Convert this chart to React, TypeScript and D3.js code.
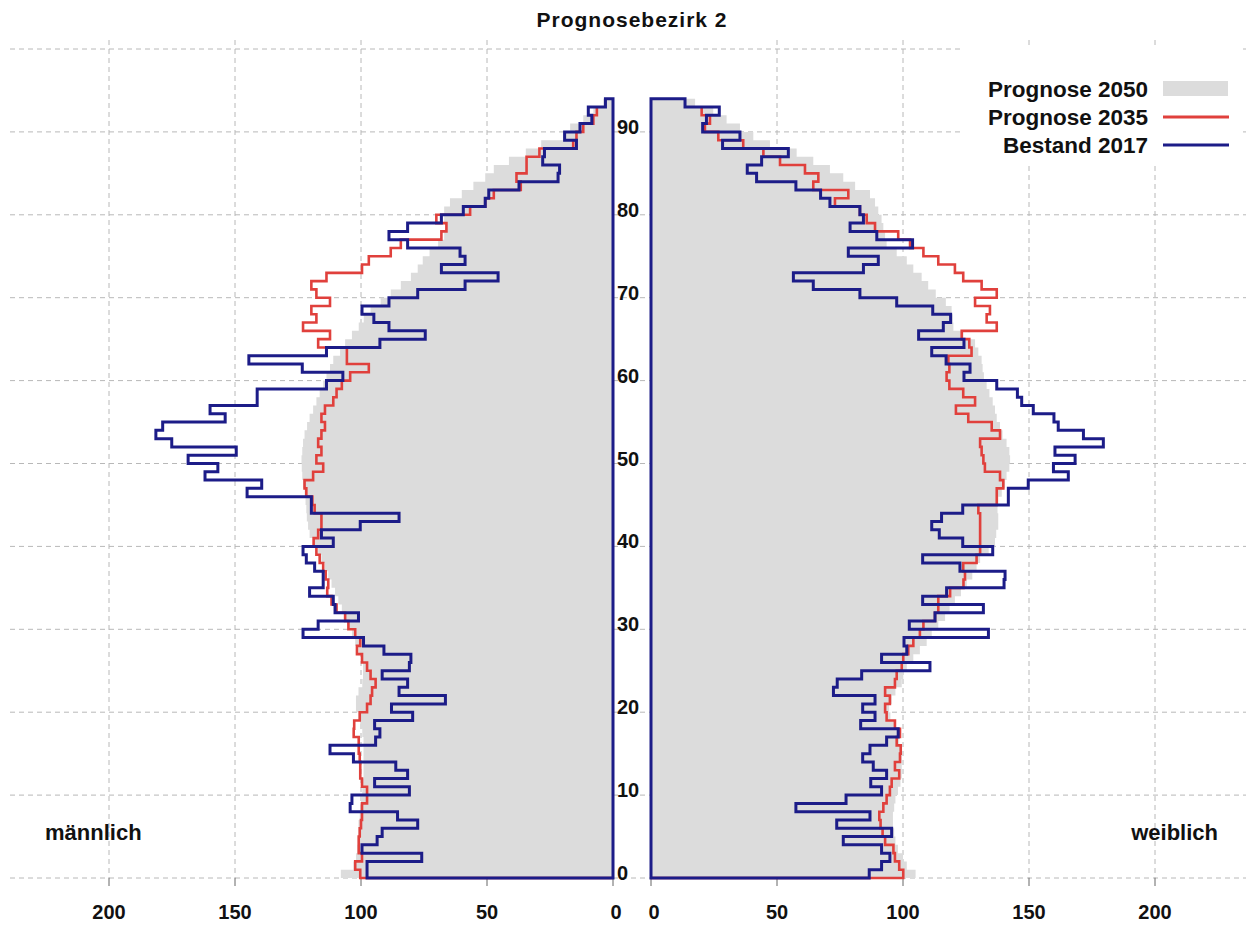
import React from 'react';
import * as d3 from 'd3';

// ---- Data (ages 0..93, values per age) ----
const ageTicks = [0, 10, 20, 30, 40, 50, 60, 70, 80, 90];
const xTicks = [0, 50, 100, 150, 200];
const gridAges = [0, 10, 20, 30, 40, 50, 60, 70, 80, 90, 100];

const maleBestand2017 = [
  97.6, 97.6, 75.9, 99.6, 93.6, 91.6, 77.5, 85.5, 104.3, 103.6,
  80.8, 94.6, 81.5, 86.2, 103, 112.3, 94.2, 92.5, 94.6, 79.5,
  87.9, 66.5, 84.9, 81.5, 91.6, 80.8, 80.2, 90.9, 99, 123,
  117, 101, 110.3, 111, 120.4, 115, 115, 118.4, 121.7, 123,
  111, 115.7, 100.3, 84.9, 119.7, 119.7, 145.2, 139.4, 161.9, 156.8,
  168.6, 149.5, 175.1, 181.4, 178.7, 153.9, 159.9, 141.2, 141.2, 113.7,
  107.2, 123.3, 144.5, 113.7, 92.5, 74.5, 88.9, 94.9, 99.6, 88.9,
  77.5, 58.7, 45.6, 68.1, 58.7, 60.7, 81.5, 88.9, 81.5, 68.1,
  59.4, 50.7, 49.3, 37.3, 21.8, 21.2, 27.9, 27.2, 14.5, 19.2,
  13.1, 8.4, 9.8, 3,
];
const maleProg2035 = [
  100.3, 102.3, 99.6, 100.9, 100.9, 100.5, 100, 99.6, 99.6, 97.6,
  97.6, 99.6, 100.3, 100.3, 100.5, 100.9, 100.9, 102.9, 102.7, 100.5,
  97.6, 96.2, 95.6, 94.2, 96.2, 97.6, 99.6, 101.6, 100.3, 102.3,
  105, 106.3, 109.7, 111.7, 113.4, 113, 114, 115, 116.4, 117.7,
  118.8, 117, 115.7, 115.7, 118.4, 119.3, 121.7, 122.4, 119, 115,
  117.7, 115.7, 117, 115.7, 114.3, 115.7, 114.3, 111, 109.7, 107.6,
  104.3, 96.9, 105.6, 105.6, 117, 112.3, 123, 117.7, 119.7, 112.3,
  117.7, 119.7, 113.7, 99.6, 96.9, 88.2, 84.2, 68.1, 66.1, 70.1,
  56.7, 50.7, 47.3, 36.6, 38.3, 34.3, 34.3, 29.2, 15.8, 14.5,
  11.8, 7.8, 6.4,
];
const maleProg2050 = [
  108, 103, 102, 101.5, 101.3, 101, 101, 100.5, 100.3, 100,
  99.5, 99.2, 99, 99, 99, 99, 99, 99.5, 100.3, 101,
  102, 102, 101, 99.5, 99.2, 99.2, 100, 101, 102.3, 103.6,
  105, 106.3, 107.6, 109, 110.3, 111.7, 113, 114.3, 115.7, 117,
  119, 120.4, 121, 121.5, 121.7, 122, 122.4, 123, 123.3, 123.5,
  123.6, 123.3, 123, 122.4, 121.4, 120.4, 119, 117.7, 116.4, 115,
  113.7, 112.3, 111, 108.3, 106.3, 103.6, 100.9, 98.9, 96.2, 92.2,
  88.2, 84.2, 80.2, 77.5, 75.5, 72.8, 69.4, 67, 66.5, 67,
  67, 64.7, 60, 55.4, 50.7, 47.3, 41.3, 34.6, 28.5, 19.8,
  17, 11.8, 7.8, 3.8,
];

const femaleBestand2017 = [
  86.6, 91.5, 94.8, 91.5, 76.3, 95.5, 73.7, 86.9, 57.5, 77.4,
  91.5, 87.2, 93.5, 88.2, 84, 86.9, 93.5, 98.1, 83.2, 88.9,
  84, 88.9, 72.4, 73.9, 83.6, 110.7, 91.5, 101.5, 100.4, 133.9,
  102.5, 112.7, 131.9, 107.8, 117.3, 140.1, 140.5, 122.6, 107.8, 135.6,
  123.7, 114.4, 111.4, 115.3, 123.7, 141.8, 141.8, 149.7, 165.6, 159.7,
  168.3, 160.3, 179.5, 171.6, 161.6, 159.9, 151.7, 147.1, 145.4, 137.2,
  124.2, 126.6, 117.1, 111.4, 124.2, 106.2, 116, 118.9, 111.8, 97.5,
  82.9, 64.4, 56.5, 84.3, 90.2, 78.3, 103.8, 89.6, 79, 84.3,
  82.9, 71, 67.3, 57.5, 41.9, 38.2, 43.9, 54.5, 28.4, 35.3,
  20.5, 22, 27.1, 13.5,
];
const femaleProg2035 = [
  100.1, 98.5, 96.8, 96.2, 92.9, 91.9, 91.1, 90.6, 92.2, 93.5,
  94.8, 95.5, 98.5, 96.8, 98.8, 99.1, 97.5, 98.8, 96.8, 93.5,
  92.9, 94.8, 92.9, 96.8, 97.5, 99.5, 100.1, 102.1, 104.1, 106.7,
  108.1, 112.7, 114, 114, 118.7, 124, 124.6, 123.9, 129.2, 130.6,
  130.6, 130.6, 130.6, 130.6, 129.9, 137.2, 137.2, 139.8, 138.5, 132.5,
  131.9, 131.2, 130.6, 138.5, 135.2, 125.9, 121, 128.6, 123.9, 118.4,
  117.3, 118.4, 118, 127.2, 126.3, 123.3, 137.2, 133.2, 134.5, 128.6,
  137.2, 131.2, 123.9, 120.6, 114, 108.1, 102.8, 98.1, 88.9, 85.6,
  82.9, 73, 78.3, 64.4, 66.4, 61.1, 51.2, 44.6, 36.6, 26.7,
  21.4, 23.4, 20.1,
];
const femaleProg2050 = [
  105, 101.5, 100, 98, 97, 96.5, 96, 96, 96.5, 97,
  98, 99, 99.5, 99.5, 99.5, 99, 98.5, 98, 96.5, 95,
  94.5, 95.5, 97, 99.5, 100.1, 101.5, 104.1, 106.7, 109.4, 111.4,
  114, 116.7, 118.5, 120.6, 123, 125.3, 127.5, 129.2, 130.6, 134,
  136.5, 137, 137.8, 137.8, 137.5, 137.8, 139.2, 140.5, 141.1, 142.2,
  142.5, 142.2, 141.1, 139.5, 138.5, 137.2, 136.5, 135.6, 134.3, 133.2,
  132.1, 131.6, 131.2, 129.9, 128.6, 124, 120, 119.7, 119.3, 117,
  113, 110, 107.4, 104.1, 101.5, 97.5, 93.5, 92.9, 92.2, 91.5,
  90.2, 88.9, 86.9, 81, 76.3, 71, 64.4, 57.8, 47.2, 40.6,
  35.3, 30, 24.7, 17.5,
];

const legendItems = [
  { label: 'Prognose 2050', kind: 'area' },
  { label: 'Prognose 2035', kind: 'red' },
  { label: 'Bestand 2017', kind: 'blue' },
];

const C_GRAY = '#dcdcdc';
const C_RED = '#e0403c';
const C_BLUE = '#1c1c88';
const C_GRID = '#b8b8b8';
const FONT = '"Liberation Sans", Arial, sans-serif';

export default function App() {
  const y = d3.scaleLinear().domain([0, 100]).range([878, 49]);
  const xL = d3.scaleLinear().domain([0, 200]).range([613, 109]);
  const xR = d3.scaleLinear().domain([0, 200]).range([651, 1155]);

  const stepPath = (vals: number[], x: d3.ScaleLinear<number, number>, close: boolean) => {
    const p = d3.path();
    p.moveTo(x(0), y(0));
    vals.forEach((v, i) => {
      p.lineTo(x(v), y(i));
      p.lineTo(x(v), y(i + 1));
    });
    if (close) {
      p.lineTo(x(0), y(vals.length));
      p.closePath();
    }
    return p.toString();
  };

  const sides = [
    { x: xL, g: maleProg2050, r: maleProg2035, b: maleBestand2017 },
    { x: xR, g: femaleProg2050, r: femaleProg2035, b: femaleBestand2017 },
  ];

  const lgX = 1163;
  const lgRows = [97, 125, 153];

  return (
    <svg
      width={1257}
      height={927}
      style={{ position: 'absolute', left: 0, top: 0, background: '#fff' }}
      fontFamily={FONT}
    >
      <rect x={0} y={0} width={1257} height={927} fill="#fff" />
      {/* horizontal grid */}
      {gridAges.map((a) => (
        <line key={'h' + a} x1={10} x2={1246} y1={y(a)} y2={y(a)}
          stroke={C_GRID} strokeWidth={1} strokeDasharray="5,4" />
      ))}
      {/* vertical grid */}
      {sides.map((s, si) =>
        xTicks.filter((t) => t > 0).map((t) => (
          <line key={'v' + si + t} x1={s.x(t)} x2={s.x(t)} y1={40} y2={878}
            stroke={C_GRID} strokeWidth={1} strokeDasharray="5,4" />
        ))
      )}
      {/* tick stubs */}
      {sides.map((s, si) =>
        xTicks.map((t) => (
          <line key={'t' + si + t} x1={s.x(t)} x2={s.x(t)} y1={878} y2={886}
            stroke="#666" strokeWidth={1} />
        ))
      )}
      {/* series */}
      {sides.map((s, si) => (
        <g key={'s' + si}>
          <path d={stepPath(s.g, s.x, true)} fill={C_GRAY} stroke="none" />
          <path d={stepPath(s.r, s.x, false)} fill="none" stroke={C_RED} strokeWidth={2.6} strokeLinejoin="miter" />
          <path d={stepPath(s.b, s.x, true)} fill="none" stroke={C_BLUE} strokeWidth={3} strokeLinejoin="miter" />
        </g>
      ))}
      {/* age labels */}
      {ageTicks.map((a) => (
        <text key={'a' + a} x={617} y={y(a) + 2} fontSize={20} fontWeight="bold" fill="#111">
          {a}
        </text>
      ))}
      {/* x tick labels */}
      {sides.map((s, si) =>
        xTicks.map((t) => (
          <text key={'xl' + si + t} x={s.x(t) + (t === 0 ? 3 : 0)} y={919}
            fontSize={20} fontWeight="bold" textAnchor="middle" fill="#111">
            {t}
          </text>
        ))
      )}
      {/* title */}
      <text x={632} y={27} fontSize={21} fontWeight="bold" textAnchor="middle" fill="#111" letterSpacing={1}>
        Prognosebezirk 2
      </text>
      {/* sex labels */}
      <text x={45} y={840} fontSize={22} fontWeight="bold" fill="#111">männlich</text>
      <text x={1218} y={840} fontSize={22} fontWeight="bold" fill="#111" textAnchor="end">weiblich</text>
      {/* legend */}
      <rect x={963} y={47} width={279} height={116} fill="#fff" />
      {legendItems.map((it, i) => (
        <g key={'lg' + i}>
          <text x={1148} y={lgRows[i]} fontSize={22.5} fontWeight="bold" textAnchor="end" fill="#111">
            {it.label}
          </text>
          {it.kind === 'area' ? (
            <rect x={lgX} y={lgRows[i] - 16} width={65} height={15} fill={C_GRAY} />
          ) : (
            <line x1={lgX} x2={lgX + 66} y1={lgRows[i] - 8} y2={lgRows[i] - 8}
              stroke={it.kind === 'red' ? C_RED : C_BLUE} strokeWidth={3} />
          )}
        </g>
      ))}
    </svg>
  );
}
